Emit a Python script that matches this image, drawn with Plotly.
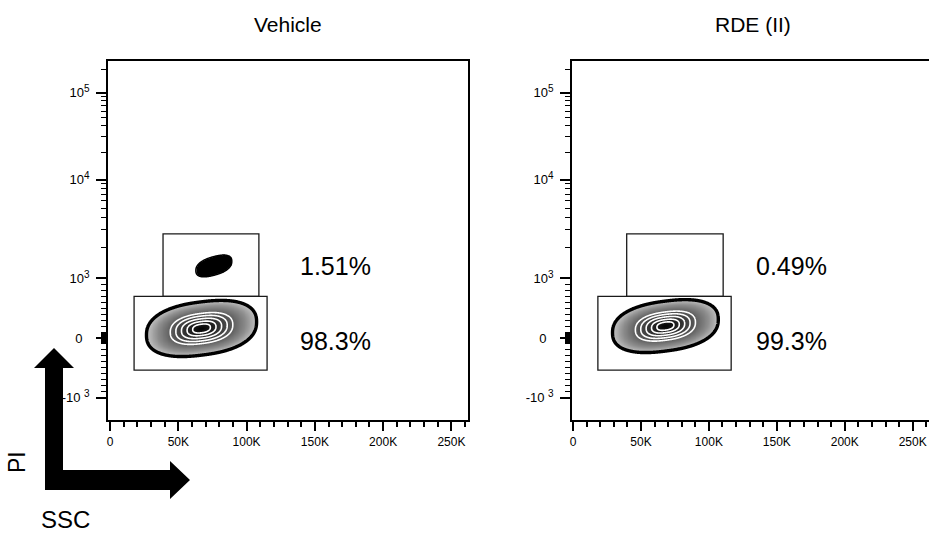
import numpy as np
import plotly.graph_objects as go

# ---------------- data ----------------
panel_titles = ["Vehicle", "RDE (II)"]
upper_gate_pct = ["1.51%", "0.49%"]
lower_gate_pct = ["98.3%", "99.3%"]

x_tick_vals = [0, 50000, 100000, 150000, 200000, 250000]
x_tick_text = ["0", "50K", "100K", "150K", "200K", "250K"]
x_minor_vals = [v for v in range(10000, 262000, 10000) if v % 50000]

SUP = "<sup><span style='font-size:10px'>{}</span></sup>"
y_tick_vals = [-1000, 0, 1000, 10000, 100000]
y_tick_text = ["-10 " + SUP.format(3), "0\u00a0\u00a0", "10" + SUP.format(3), "10" + SUP.format(4),
               "10" + SUP.format(5)]
y_minor_vals = ([s * v for s in (1, -1) for v in range(10, 100, 10)]
                + [s * v for s in (1, -1) for v in range(100, 1000, 100)]
                + list(range(2000, 10000, 1000)) + list(range(20000, 100000, 10000)) + [200000])

# live population per panel: SSC centre, PI centre, SSC spread, PI spread (display units), PI drift per SSC spread
live_ssc_center = [67000, 68000]
live_pi_center = [160, 200]
live_ssc_sd = [14400, 13900]
live_pi_sd = [0.160, 0.150]
live_pi_drift = [0.040, 0.040]

# dead (PI+) population, Vehicle only
dead_ssc_center = [76000]
dead_pi_center = [1320]
dead_ssc_sd = [4700]
dead_pi_sd = [0.056]
dead_pi_drift = [0.028]

# gates (SSC min, SSC max) per panel and PI limits
upper_gate_ssc = [(38800, 109000), (39500, 110500)]
lower_gate_ssc = [(17600, 115000), (18300, 116400)]
upper_gate_pi = (700, 2730)
lower_gate_pi = (-540, 700)

# percentage label anchors (SSC, PI)
pct_label_ssc = [137500, 133500]
upper_pct_pi = 1320
lower_pct_pi = -50

# ---------------- biexponential-like display scale ----------------
A_DEC, B_DEC = 1.76, -0.10


def to_disp(v):
    v = np.asarray(v, dtype=float)
    out = v / 1000.0
    big = np.abs(v) > 1000
    d = np.log10(np.abs(v[big]) / 1000.0)
    out[big] = np.sign(v[big]) * (1 + A_DEC * d + B_DEC * d * d)
    return out


def dist(xs, ts, cx, ct, sx, st, drift, p=2.4):
    X, Y = np.meshgrid(xs, ts)
    u = (X - cx) / sx
    v = (Y - ct - drift * u) / st
    return (np.abs(u) ** p + np.abs(v) ** p) ** (1.0 / p)


OUTER = 2.8
fig = go.Figure()

grid_x = np.linspace(0, 160000, 481)
grid_t = np.linspace(-1.1, 1.0, 481)

shade_scale = [[0, "#000000"], [0.17, "#1c1c1c"], [0.53, "#5e5e5e"], [0.75, "#8e8e8e"],
               [0.93, "#c4c4c4"], [0.935, "rgba(255,255,255,0)"], [1, "rgba(255,255,255,0)"]]

for i in range(2):
    xa = "x" if i == 0 else "x2"
    ya = "y" if i == 0 else "y2"
    ct = float(to_disp([live_pi_center[i]])[0])
    r = dist(grid_x, grid_t, live_ssc_center[i], ct, live_ssc_sd[i], live_pi_sd[i], live_pi_drift[i])
    rc = np.clip(r, 0, 3.0)
    fig.add_trace(go.Heatmap(x=grid_x, y=grid_t, z=rc, zmin=0, zmax=3.0, colorscale=shade_scale,
                             zsmooth="best", showscale=False, hoverinfo="skip", xaxis=xa, yaxis=ya))
    fig.add_trace(go.Contour(x=grid_x, y=grid_t, z=rc, showscale=False, hoverinfo="skip",
                             contours=dict(start=0.45, end=1.6, size=0.285, coloring="none"),
                             line=dict(color="white", width=1.6), xaxis=xa, yaxis=ya))
    fig.add_trace(go.Contour(x=grid_x, y=grid_t, z=rc, showscale=False, hoverinfo="skip",
                             contours=dict(start=OUTER, end=OUTER, size=1, coloring="none"),
                             line=dict(color="black", width=3.4), xaxis=xa, yaxis=ya))

# dead population blob (Vehicle)
dgrid_x = np.linspace(40000, 110000, 281)
dgrid_t = np.linspace(0.85, 1.6, 301)
for j in range(len(dead_ssc_center)):
    ct = float(to_disp([dead_pi_center[j]])[0])
    r2 = np.clip(dist(dgrid_x, dgrid_t, dead_ssc_center[j], ct, dead_ssc_sd[j], dead_pi_sd[j],
                      dead_pi_drift[j]), 0, 3.0)
    fig.add_trace(go.Heatmap(x=dgrid_x, y=dgrid_t, z=r2, zmin=0, zmax=3.0,
                             colorscale=[[0, "black"], [0.93, "black"], [0.935, "rgba(255,255,255,0)"],
                                         [1, "rgba(255,255,255,0)"]],
                             zsmooth="best", showscale=False, hoverinfo="skip", xaxis="x", yaxis="y"))
    fig.add_trace(go.Contour(x=dgrid_x, y=dgrid_t, z=r2, showscale=False, hoverinfo="skip",
                             contours=dict(start=OUTER, end=OUTER, size=1, coloring="none"),
                             line=dict(color="black", width=1.5), xaxis="x", yaxis="y"))

# gates
shapes = []
for i in range(2):
    xr = "x" if i == 0 else "x2"
    yr = "y" if i == 0 else "y2"
    ug = to_disp(upper_gate_pi)
    lg = to_disp(lower_gate_pi)
    shapes.append(dict(type="rect", xref=xr, yref=yr, x0=upper_gate_ssc[i][0], x1=upper_gate_ssc[i][1],
                       y0=ug[0], y1=ug[1], line=dict(color="#1a1a1a", width=1.3)))
    shapes.append(dict(type="rect", xref=xr, yref=yr, x0=lower_gate_ssc[i][0], x1=lower_gate_ssc[i][1],
                       y0=lg[0], y1=lg[1], line=dict(color="#1a1a1a", width=1.3)))

# L-shaped axis arrow (decoration, in paper units of the plot area)
PL, PB, PW, PH = 108, 420, 821, 359
arrow_px = [(54, 348), (74, 368), (63, 368), (63, 470), (170, 470), (170, 461), (190, 480),
            (170, 499), (170, 490), (45, 490), (45, 368), (34, 368)]
path = "M " + " L ".join(f"{(px - PL) / PW:.5f},{(PB - py) / PH:.5f}" for px, py in arrow_px) + " Z"
shapes.append(dict(type="path", xref="paper", yref="paper", path=path, fillcolor="black",
                   line=dict(color="black", width=0)))

FONT = "Liberation Sans, Arial, sans-serif"
annotations = []
title_centers = [(288 - PL) / PW, (753 - PL) / PW]
for i in range(2):
    annotations.append(dict(text=panel_titles[i], x=title_centers[i], y=(PB - 24) / PH, xref="paper", yref="paper",
                            showarrow=False, xanchor="center", yanchor="middle",
                            font=dict(family=FONT, size=21, color="black")))
    xr = "x" if i == 0 else "x2"
    yr = "y" if i == 0 else "y2"
    annotations.append(dict(text=upper_gate_pct[i], x=pct_label_ssc[i], y=float(to_disp([upper_pct_pi])[0]),
                            xref=xr, yref=yr, showarrow=False, xanchor="left", yanchor="middle",
                            font=dict(family=FONT, size=25, color="black")))
    annotations.append(dict(text=lower_gate_pct[i], x=pct_label_ssc[i], y=float(to_disp([lower_pct_pi])[0]),
                            xref=xr, yref=yr, showarrow=False, xanchor="left", yanchor="middle",
                            font=dict(family=FONT, size=25, color="black")))

annotations.append(dict(text="PI", x=(17 - PL) / PW, y=(PB - 462) / PH, xref="paper", yref="paper",
                        showarrow=False, textangle=-90, xanchor="center", yanchor="middle",
                        font=dict(family=FONT, size=23, color="black")))
annotations.append(dict(text="SSC", x=(65 - PL) / PW, y=(PB - 519) / PH, xref="paper", yref="paper",
                        showarrow=False, xanchor="center", yanchor="middle",
                        font=dict(family=FONT, size=24, color="black")))

x_tick_font = dict(family=FONT, size=12, color="black")
y_tick_font = dict(family=FONT, size=13, color="black")
y_disp_ticks = to_disp(y_tick_vals).tolist()
y_disp_minor = to_disp(y_minor_vals).tolist()


def xaxis_cfg(domain, rng, anchor):
    return dict(domain=domain, range=rng, anchor=anchor, tickmode="array", tickvals=x_tick_vals,
                ticktext=x_tick_text, ticks="outside", ticklen=9, tickwidth=2, tickcolor="black",
                showline=True, linecolor="black", linewidth=1.5, mirror=True, showgrid=False,
                zeroline=False, tickfont=x_tick_font, ticklabelstandoff=1,
                minor=dict(tickmode="array", tickvals=x_minor_vals, ticks="outside", ticklen=5,
                           tickwidth=1.5, tickcolor="black", showgrid=False))


def yaxis_cfg(anchor, mirror):
    return dict(domain=[0, 1], range=[-1.378, 4.655], anchor=anchor, tickmode="array",
                tickvals=y_disp_ticks, ticktext=y_tick_text, ticks="outside", ticklen=10, tickwidth=2,
                tickcolor="black", showline=True, linecolor="black", linewidth=1.5, mirror=mirror,
                showgrid=False, zeroline=False, tickfont=y_tick_font, ticklabelstandoff=4,
                minor=dict(tickmode="array", tickvals=y_disp_minor, ticks="outside", ticklen=5,
                           tickwidth=1.2, tickcolor="black", showgrid=False))


fig.update_layout(
    width=929, height=539,
    margin=dict(l=PL, r=0, t=61, b=119, pad=0),
    paper_bgcolor="white", plot_bgcolor="white",
    showlegend=False,
    xaxis=xaxis_cfg([0, 360 / PW], [-1500, 262144], "y"),
    yaxis=yaxis_cfg("x", True),
    xaxis2=xaxis_cfg([464 / PW, 1], [-750, 262000], "y2"),
    yaxis2=yaxis_cfg("x2", False),
    shapes=shapes,
    annotations=annotations,
    font=dict(family=FONT, color="black"),
)

fig.write_html("out.html", config={"displayModeBar": False},
               post_script="document.body.style.margin='0';document.body.style.overflow='hidden';")
